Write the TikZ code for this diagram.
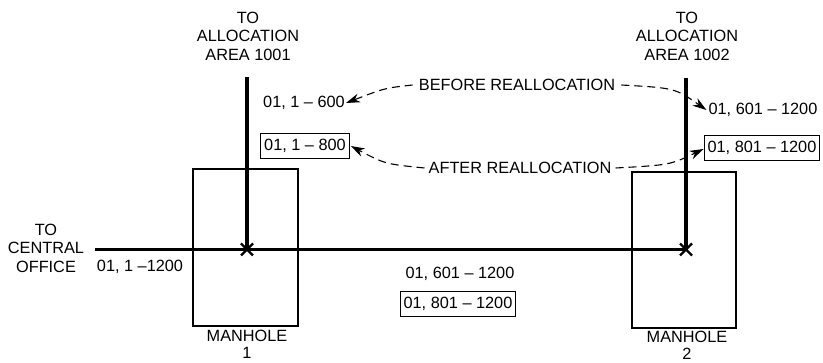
\documentclass[tikz,border=0pt]{standalone}
\usepackage{fontspec}
\setmainfont{Liberation Sans}
\usetikzlibrary{arrows.meta}
\tikzset{
  lbl/.style={font=\fontsize{16.3}{18.5}\selectfont, align=center, inner sep=0pt},
  boxlbl/.style={lbl, draw, line width=1.1pt, inner xsep=3.5pt, inner ysep=5.5pt},
  mhlbl/.style={lbl, font=\fontsize{16.3}{17}\selectfont},
  cable/.style={line width=3.2pt},
  hole/.style={line width=1.2pt},
  callout/.style={dashed, dash pattern=on 8pt off 5pt, line width=1.1pt, -{Stealth[length=14pt,width=9pt]}},
  xmark/.style={line width=2.4pt}
}
\begin{document}
\begin{tikzpicture}[x=1pt,y=-1pt]
\useasboundingbox (0,0) rectangle (823,363);
% manholes
\draw[hole] (193,169) rectangle (298,326);
\draw[hole] (632,172) rectangle (736,328);
% cable coordinates
\coordinate (v1) at (247,77);
\coordinate (x1) at (247,249.5);
\coordinate (v2) at (686,78);
\coordinate (x2) at (686,249.5);
\coordinate (h0) at (95,249.5);
\draw[cable] (h0) -- (x2);
\draw[cable] (v1) -- (x1);
\draw[cable] (v2) -- (x2);
\draw[xmark] ([shift={(-6,-6)}]x1) -- ([shift={(6,6)}]x1) ([shift={(-6,6)}]x1) -- ([shift={(6,-6)}]x1);
\draw[xmark] ([shift={(-6,-6)}]x2) -- ([shift={(6,6)}]x2) ([shift={(-6,6)}]x2) -- ([shift={(6,-6)}]x2);
% labels
\node[lbl] (top1) at (248,36) {TO\\ALLOCATION\\AREA 1001};
\node[lbl] (top2) at (687,36) {TO\\ALLOCATION\\AREA 1002};
\node[lbl] (co) at (46,248) {TO\\CENTRAL\\OFFICE};
\node[mhlbl] (mh1) at (247,344) {MANHOLE\\1};
\node[mhlbl] (mh2) at (687,345) {MANHOLE\\2};
\node[lbl] (b600) at (304,103) {01, 1 -- 600};
\node[boxlbl] (b800) at (305,146) {01, 1 -- 800};
\node[lbl] (b601) at (763,110) {01, 601 -- 1200};
\node[boxlbl] (b801) at (762,148) {01, 801 -- 1200};
\node[lbl] (before) at (517,85) {BEFORE REALLOCATION};
\node[lbl] (after) at (520,168) {AFTER REALLOCATION};
\node[lbl] (c1200) at (140,267) {01, 1 --1200};
\node[lbl] (m601) at (460,274) {01, 601 -- 1200};
\node[boxlbl] (m801) at (458,304) {01, 801 -- 1200};
% callouts
\draw[callout] ([xshift=-6pt]before.west) .. controls (385,88) .. ([xshift=1pt]b600.east);
\draw[callout] ([xshift=6pt]before.east) .. controls (675,88) .. ([xshift=-2pt]b601.west);
\draw[callout] ([xshift=-4pt]after.west) .. controls (385,164) .. ([xshift=1pt]b800.east);
\draw[callout] ([xshift=4pt]after.east) .. controls (670,165) .. ([yshift=-1pt]b801.west);
\end{tikzpicture}
\end{document}
